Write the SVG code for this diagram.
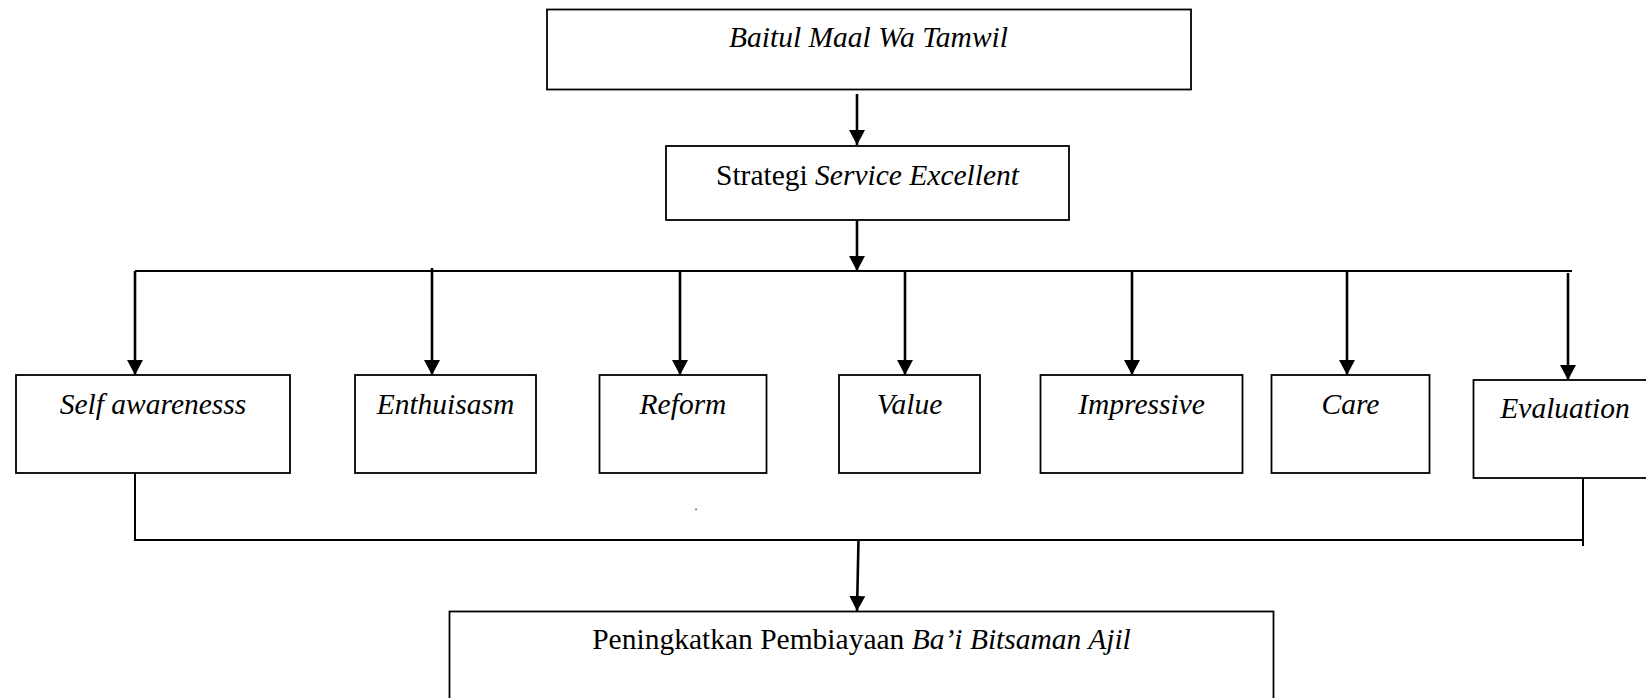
<svg xmlns="http://www.w3.org/2000/svg" width="1646" height="698" viewBox="0 0 1646 698">
<style>
.box{fill:#fff;stroke:#000;stroke-width:1.8}
.t{font-family:"Liberation Serif","Times New Roman",serif;font-size:29.5px;fill:#000;text-anchor:middle}
.i{font-style:italic}
.ln{fill:none;stroke:#000;stroke-width:2}
.ar{fill:none;stroke:#000;stroke-width:2.6;marker-end:url(#ah)}
</style>
<defs>
<marker id="ah" viewBox="0 0 10 10" refX="10" refY="5" markerUnits="userSpaceOnUse" markerWidth="15" markerHeight="16" orient="auto" preserveAspectRatio="none">
<path d="M0,0 L10,5 L0,10 Z" fill="#000"/>
</marker>
</defs>
<rect width="1646" height="698" fill="#fff"/>
<g id="connectors">
<line class="ar" x1="857" y1="94" x2="857" y2="145"/>
<line class="ar" x1="857" y1="220" x2="857" y2="271"/>
<line class="ln" x1="135" y1="271" x2="1572" y2="271"/>
<line class="ar" x1="135" y1="271" x2="135" y2="375"/>
<line class="ar" x1="432" y1="268" x2="432" y2="375"/>
<line class="ar" x1="680" y1="270" x2="680" y2="375"/>
<line class="ar" x1="905" y1="271" x2="905" y2="375"/>
<line class="ar" x1="1132" y1="270" x2="1132" y2="375"/>
<line class="ar" x1="1347" y1="271" x2="1347" y2="375"/>
<line class="ar" x1="1568" y1="273" x2="1568" y2="380"/>
<polyline class="ln" points="135,473 135,540 1583,540"/>
<line class="ln" x1="1583" y1="478" x2="1583" y2="546"/>
<line class="ar" x1="858.5" y1="540" x2="857" y2="611"/>
</g>
<g id="n-bmt">
<rect class="box" x="547" y="9.5" width="644" height="80"/>
<text class="t i" x="868.5" y="47">Baitul Maal Wa Tamwil</text>
</g>
<g id="n-strategi">
<rect class="box" x="666" y="146" width="403" height="74"/>
<text class="t" x="867.5" y="185">Strategi <tspan class="i">Service Excellent</tspan></text>
</g>
<g id="n-self">
<rect class="box" x="16" y="375" width="274" height="98"/>
<text class="t i" x="153" y="414">Self awarenesss</text>
</g>
<g id="n-enth">
<rect class="box" x="355" y="375" width="181" height="98"/>
<text class="t i" x="445.5" y="414">Enthuisasm</text>
</g>
<g id="n-reform">
<rect class="box" x="599.5" y="375" width="167" height="98"/>
<text class="t i" x="683" y="414">Reform</text>
</g>
<g id="n-value">
<rect class="box" x="839" y="375" width="141" height="98"/>
<text class="t i" x="909.5" y="414">Value</text>
</g>
<g id="n-impressive">
<rect class="box" x="1040.5" y="375" width="202" height="98"/>
<text class="t i" x="1141.5" y="414">Impressive</text>
</g>
<g id="n-care">
<rect class="box" x="1271.5" y="375" width="158" height="98"/>
<text class="t i" x="1350.5" y="414">Care</text>
</g>
<g id="n-eval">
<rect class="box" x="1473.5" y="380" width="186" height="98"/>
<text class="t i" x="1565" y="418">Evaluation</text>
</g>
<g id="n-dot">
<text class="t" x="696" y="510" style="font-size:12px">.</text>
</g>
<g id="n-result">
<rect class="box" x="449.5" y="611.5" width="824" height="100"/>
<text class="t" x="861.5" y="649">Peningkatkan Pembiayaan <tspan class="i">Ba’i Bitsaman Ajil</tspan></text>
</g>
</svg>
